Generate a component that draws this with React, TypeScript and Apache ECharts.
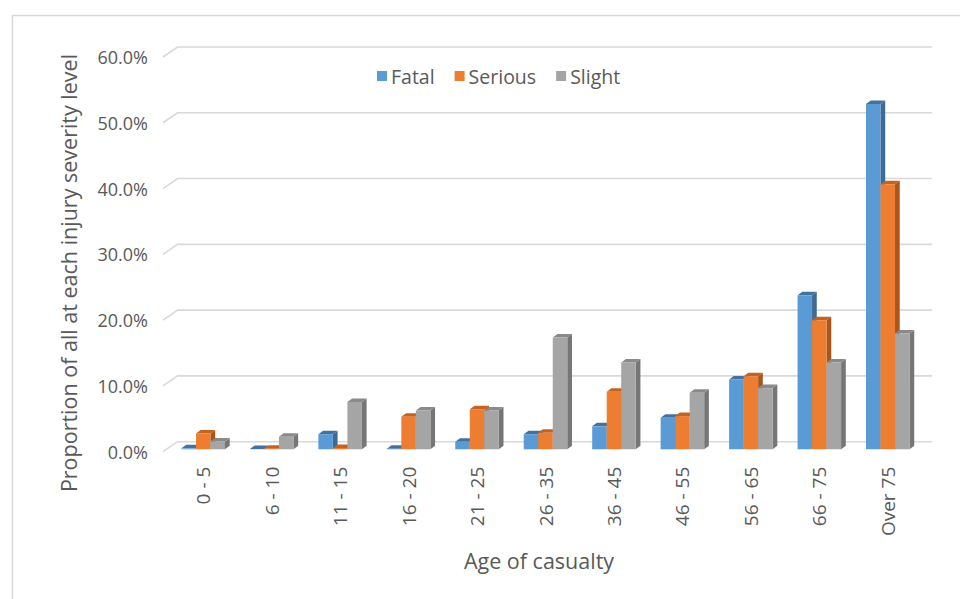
import React, { useEffect, useRef } from 'react';
import * as echarts from 'echarts';

const categories = ['0 - 5', '6 - 10', '11 - 15', '16 - 20', '21 - 25', '26 - 35', '36 - 45', '46 - 55', '56 - 65', '66 - 75', 'Over 75'];
const fatal = [0.15, 0.05, 2.3, 0.1, 1.15, 2.3, 3.5, 4.8, 10.6, 23.4, 52.5];
const serious = [2.4, 0.1, 0.2, 4.95, 6.1, 2.5, 8.75, 5.05, 11.1, 19.6, 40.3];
const slight = [1.2, 1.9, 7.2, 5.9, 5.9, 17.0, 13.2, 8.6, 9.3, 13.2, 17.6];
const gridTicks = [0, 10, 20, 30, 40, 50, 60];

const FONT = '"Open Sans", "Noto Sans", sans-serif';
const TEXT = '#595959';
const DX = 4.7;
const DY = -3.5;
const BAR_SHIFT_Y = -2.4;
const WALL_X = 14.5;
const WALL_Y = -10;

function barSeries(name: string, values: number[], idx: number, front: string, top: string, side: string) {
  return {
    type: 'custom',
    name,
    coordinateSystem: 'cartesian2d',
    data: values.map((v, i) => [i, v]),
    encode: { x: 0, y: 1 },
    itemStyle: { color: front },
    z: 3,
    renderItem: (params: any, api: any) => {
      const ci = api.value(0);
      const v = api.value(1);
      const base = api.coord([ci, 0]);
      const tp = api.coord([ci, v]);
      const cw = api.size([1, 0])[0];
      const bw = cw * 0.212;
      const left = base[0] - 1.5 * bw + idx * bw;
      const right = left + bw;
      const y0 = base[1] + BAR_SHIFT_Y;
      const y1 = tp[1] + BAR_SHIFT_Y;
      return {
        type: 'group',
        children: [
          { type: 'polygon', shape: { points: [[right, y1], [right + DX, y1 + DY], [right + DX, y0 + DY], [right, y0]] }, style: { fill: side } },
          { type: 'polygon', shape: { points: [[left, y1], [right, y1], [right + DX, y1 + DY], [left + DX, y1 + DY]] }, style: { fill: top } },
          { type: 'rect', shape: { x: left, y: y1, width: bw, height: Math.max(0, y0 - y1) }, style: { fill: front } },
        ],
      };
    },
  };
}

export default function App() {
  const ref = useRef<HTMLDivElement>(null);
  useEffect(() => {
    document.body.style.margin = '0';
    const chart = echarts.init(ref.current!, undefined, { renderer: 'svg' });
    const option: any = {
      animation: false,
      backgroundColor: '#ffffff',
      textStyle: { fontFamily: FONT },
      grid: { left: 169, right: 38, top: 57, bottom: 147.3, containLabel: false },
      legend: {
        data: ['Fatal', 'Serious', 'Slight'],
        left: 372,
        top: 59,
        icon: 'rect',
        itemWidth: 10,
        itemHeight: 10,
        itemGap: 20,
        textStyle: { color: TEXT, fontSize: 19.5, fontFamily: FONT, lineHeight: 24, padding: [0, 0, 0, -1] },
      },
      xAxis: {
        type: 'category',
        data: categories,
        axisLine: { show: false },
        axisTick: { show: false },
        axisLabel: { rotate: 90, margin: 15, color: TEXT, fontSize: 19, fontFamily: FONT },
        splitLine: { show: false },
      },
      yAxis: {
        type: 'value',
        min: 0,
        max: 60,
        interval: 10,
        axisLine: { show: false },
        axisTick: { show: false },
        splitLine: { show: false },
        axisLabel: { margin: 21, color: TEXT, fontSize: 18, fontFamily: FONT, formatter: (v: number) => v.toFixed(1) + '%' },
      },
      graphic: [
        { type: 'rect', left: 10, top: 13, shape: { width: 980, height: 620 }, style: { fill: 'none', stroke: '#D9D9D9', lineWidth: 1.5 }, z: -1, silent: true },
        {
          type: 'text', x: 68, y: 273, rotation: Math.PI / 2,
          style: { text: 'Proportion of all at each injury severity level', fill: TEXT, font: `21.5px ${FONT}`, textAlign: 'center', textVerticalAlign: 'middle' },
        },
        {
          type: 'text', x: 539, y: 560,
          style: { text: 'Age of casualty', fill: TEXT, font: `21.5px ${FONT}`, textAlign: 'center', textVerticalAlign: 'middle' },
        },
      ],
      series: [
        {
          type: 'custom',
          name: 'gridlines',
          silent: true,
          coordinateSystem: 'cartesian2d',
          data: gridTicks.map((v) => [0, v]),
          encode: { x: 0, y: 1 },
          z: 1,
          renderItem: (params: any, api: any) => {
            const cs = params.coordSys;
            const y = api.coord([0, api.value(1)])[1];
            const x0 = cs.x - 6;
            return {
              type: 'polyline',
              shape: { points: [[x0, y], [x0 + WALL_X, y + WALL_Y], [cs.x + cs.width + 10, y + WALL_Y]] },
              style: { stroke: '#D9D9D9', lineWidth: 1.6, fill: null },
            };
          },
        },
        barSeries('Fatal', fatal, 0, '#5B9BD5', '#44729F', '#3E6A93'),
        barSeries('Serious', serious, 1, '#ED7D31', '#C4621F', '#A9561C'),
        barSeries('Slight', slight, 2, '#A5A5A5', '#8A8A8A', '#767676'),
      ],
    };
    chart.setOption(option);
    return () => chart.dispose();
  }, []);
  return <div ref={ref} style={{ position: 'fixed', left: 0, top: 0, width: 960, height: 599 }} />;
}
